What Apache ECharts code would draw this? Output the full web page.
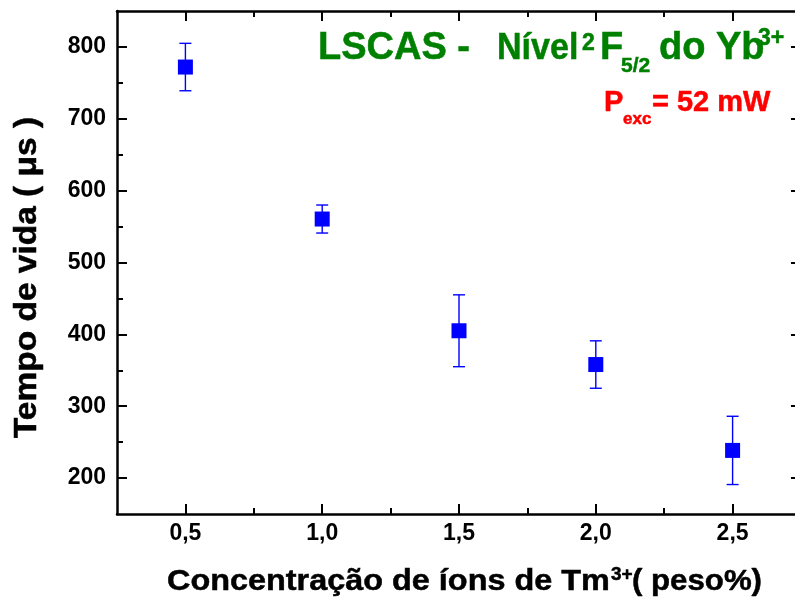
<!DOCTYPE html>
<html>
<head>
<meta charset="utf-8">
<script src="https://cdn.jsdelivr.net/npm/echarts@6/dist/echarts.min.js"></script>
<style>
html,body{margin:0;padding:0;background:#fff;}
#chart{width:795px;height:601px;}
</style>
</head>
<body>
<div id="chart"></div>
<script>
// ---- data ----
const concentrations = [0.5, 1.0, 1.5, 2.0, 2.5];
const lifetimes = [772, 560.5, 405, 358, 238.5];
const lifetimeErrors = [33, 19.5, 50, 33, 47.5];
const xMajorTicks = [0.5, 1.0, 1.5, 2.0, 2.5];
const xMinorTicks = [0.75, 1.25, 1.75, 2.25];
const yMajorTicks = [200, 300, 400, 500, 600, 700, 800];
const yMinorTicks = [250, 350, 450, 550, 650, 750];

const FONT = '"Liberation Sans", Arial, sans-serif';
const chart = echarts.init(document.getElementById('chart'), null, {renderer: 'canvas'});

const XMIN = 0.25, XMAX = 2.75, YMIN = 150, YMAX = 850;
const lineW = 2.5;

function xAx(pos, ticks, len, showLine, showLabel) {
  return {
    type: 'value', gridIndex: 0, position: pos, min: XMIN, max: XMAX,
    axisLine: {show: showLine, onZero: false, lineStyle: {color: '#000', width: lineW}},
    axisTick: {show: true, inside: true, length: len, customValues: ticks, lineStyle: {color: '#000', width: 2}},
    axisLabel: showLabel ? {
      show: true, customValues: ticks, margin: 8, color: '#000', fontSize: 23, fontWeight: 'bold', fontFamily: FONT,
      formatter: v => v.toFixed(1).replace('.', ',')
    } : {show: false},
    splitLine: {show: false}
  };
}
function yAx(pos, ticks, len, showLine, showLabel) {
  return {
    type: 'value', gridIndex: 0, position: pos, min: YMIN, max: YMAX,
    axisLine: {show: showLine, onZero: false, lineStyle: {color: '#000', width: lineW}},
    axisTick: {show: true, inside: true, length: len, customValues: ticks, lineStyle: {color: '#000', width: 2}},
    axisLabel: showLabel ? {
      show: true, customValues: ticks, margin: 11, color: '#000', fontSize: 23, fontWeight: 'bold', fontFamily: FONT
    } : {show: false},
    splitLine: {show: false}
  };
}

const errData = concentrations.map((c, i) => [c, lifetimes[i], lifetimeErrors[i]]);
const ptData = concentrations.map((c, i) => [c, lifetimes[i]]);

function txt(text, x, y, size, color, extra, styleExtra) {
  const el = Object.assign({
    type: 'text', x: x, y: y, z: 100,
    style: Object.assign({text: text, fill: color, fontSize: size, fontWeight: 'bold', fontFamily: FONT,
            align: 'left', verticalAlign: 'middle', stroke: color, lineWidth: 0.5}, styleExtra || {})
  }, extra || {});
  return el;
}

const option = {
  backgroundColor: '#fff',
  animation: false,
  grid: {left: 117, top: 11, width: 684, height: 503, containLabel: false, outerBoundsMode: 'none'},
  xAxis: [
    xAx('bottom', xMajorTicks, 10, true, true),
    xAx('top', xMajorTicks, 10, true, false),
    xAx('bottom', xMinorTicks, 6, false, false),
    xAx('top', xMinorTicks, 6, false, false)
  ],
  yAxis: [
    yAx('left', yMajorTicks, 10, true, true),
    yAx('right', yMajorTicks, 10, true, false),
    yAx('left', yMinorTicks, 6, false, false),
    yAx('right', yMinorTicks, 6, false, false)
  ],
  series: [
    {
      type: 'custom', xAxisIndex: 0, yAxisIndex: 0, z: 2,
      data: errData,
      renderItem: function (params, api) {
        const x = api.value(0), y = api.value(1), e = api.value(2);
        const t = api.coord([x, y + e]);
        const b = api.coord([x, y - e]);
        const hw = 6;
        const st = {stroke: '#0000ff', lineWidth: 1.4};
        return {type: 'group', children: [
          {type: 'line', shape: {x1: t[0], y1: t[1], x2: b[0], y2: b[1]}, style: st},
          {type: 'line', shape: {x1: t[0] - hw, y1: t[1], x2: t[0] + hw, y2: t[1]}, style: st},
          {type: 'line', shape: {x1: b[0] - hw, y1: b[1], x2: b[0] + hw, y2: b[1]}, style: st}
        ]};
      }
    },
    {
      type: 'scatter', xAxisIndex: 0, yAxisIndex: 0, z: 3,
      symbol: 'rect', symbolSize: 15,
      itemStyle: {color: '#0000ff', opacity: 1},
      data: ptData
    }
  ],
  graphic: [
    // title (green)
    txt('LSCAS -', 318, 48.5, 38, '#008000'),
    txt('Nível', 497, 48.5, 37, '#008000', {scaleX: 0.92}),
    txt('2', 582, 43.7, 23, '#008000'),
    txt('F', 600, 48.5, 38, '#008000'),
    txt('5/2', 621, 66.7, 21, '#008000'),
    txt('do Yb', 659, 48.5, 38, '#008000'),
    txt('3+', 758, 38.7, 23, '#008000'),
    // excitation power (red)
    txt('P', 604, 103, 29, '#ff0000'),
    txt('exc', 623, 119, 17, '#ff0000'),
    txt('= 52 mW', 652, 103, 29, '#ff0000'),
    // x axis title
    txt('Concentração de íons de Tm', 167, 581.5, 30, '#000', {scaleX: 1.08}),
    txt('3+', 611, 575, 19, '#000'),
    txt('( peso%)', 632, 581.5, 30, '#000', {scaleX: 1.04}),
    // y axis title
    {
      type: 'text', x: 27, y: 277.5, rotation: Math.PI / 2, scaleX: 1.08, z: 100,
      style: {text: 'Tempo de vida ( μs )', fill: '#000', fontSize: 31, fontWeight: 'bold', fontFamily: FONT,
              align: 'center', verticalAlign: 'middle', stroke: '#000', lineWidth: 0.5}
    }
  ]
};
chart.setOption(option);
</script>
</body>
</html>
